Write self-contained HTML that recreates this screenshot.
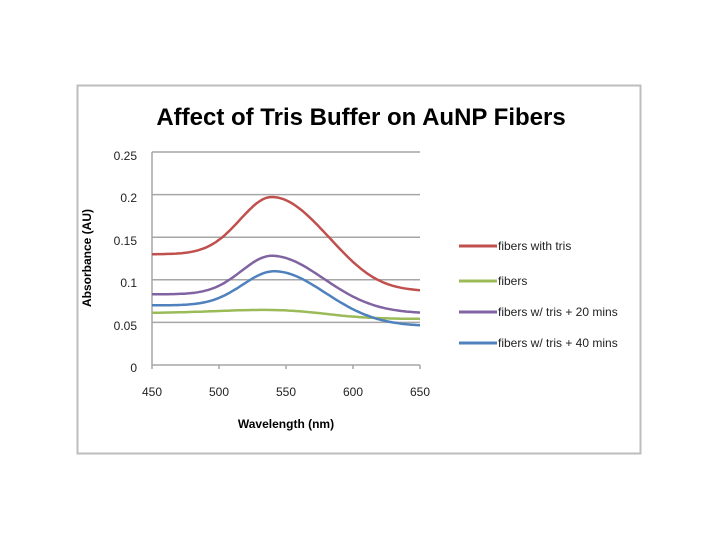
<!DOCTYPE html>
<html><head><meta charset="utf-8"><style>
body{margin:0;background:#fff;width:720px;height:540px;overflow:hidden;font-family:"Liberation Sans",sans-serif;}
</style></head><body>
<svg width="720" height="540" xmlns="http://www.w3.org/2000/svg" font-family="Liberation Sans, sans-serif">
<rect x="77.5" y="85.5" width="563" height="368" fill="#fff" stroke="#bdbdbd" stroke-width="2"/>
<text x="361" y="125" font-size="24" font-weight="bold" text-anchor="middle" fill="#000">Affect of Tris Buffer on AuNP Fibers</text>
<g stroke="#a6a6a6" stroke-width="1.5">
<line x1="152" y1="152" x2="420" y2="152"/>
<line x1="152" y1="194.6" x2="420" y2="194.6"/>
<line x1="152" y1="237.2" x2="420" y2="237.2"/>
<line x1="152" y1="279.8" x2="420" y2="279.8"/>
<line x1="152" y1="322.4" x2="420" y2="322.4"/>
<line x1="152" y1="365" x2="420" y2="365"/>
<line x1="152" y1="152" x2="152" y2="369"/>
<line x1="219" y1="365" x2="219" y2="369"/>
<line x1="286" y1="365" x2="286" y2="369"/>
<line x1="353" y1="365" x2="353" y2="369"/>
<line x1="420" y1="365" x2="420" y2="369"/>
</g>
<g font-size="12" fill="#222" text-anchor="end">
<text x="137" y="160">0.25</text><text x="137" y="202">0.2</text><text x="137" y="245">0.15</text>
<text x="137" y="287">0.1</text><text x="137" y="330">0.05</text><text x="137" y="372">0</text>
</g>
<g font-size="12" fill="#222" text-anchor="middle">
<text x="152" y="396">450</text><text x="219" y="396">500</text><text x="286" y="396">550</text>
<text x="353" y="396">600</text><text x="420" y="396">650</text>
</g>
<text x="286" y="428" font-size="12" font-weight="bold" text-anchor="middle">Wavelength (nm)</text>
<text transform="translate(91,258) rotate(-90)" font-size="12" font-weight="bold" text-anchor="middle">Absorbance (AU)</text>
<g id="series" fill="none" stroke-width="2.5" stroke-linejoin="round"></g>
<g stroke-width="3">
<line x1="459" y1="246" x2="497" y2="246" stroke="#c0504d"/>
<line x1="459" y1="281" x2="497" y2="281" stroke="#9bbb59"/>
<line x1="459" y1="312" x2="497" y2="312" stroke="#8064a2"/>
<line x1="459" y1="343" x2="497" y2="343" stroke="#4f81bd"/>
</g>
<g font-size="12" fill="#222">
<text x="498" y="250">fibers with tris</text>
<text x="498" y="285">fibers</text>
<text x="498" y="316">fibers w/ tris + 20 mins</text>
<text x="498" y="347">fibers w/ tris + 40 mins</text>
</g>
</svg>
<script>
function X(l){return 152+(l-450)*268/200;}
function Y(v){return 365-v*852;}
function sig(z){return 1/(1+Math.exp(-z));}
var S=[
 {c:"#c0504d",f:function(l){var b=0.13-0.044*sig((l-600)/15);return b+0.068*Math.exp(-Math.pow((l-540)/(l<540?24:33),2)/2);}},
 {c:"#9bbb59",f:function(l){return 0.061+0.004*Math.exp(-Math.pow((l-540)/40,2)/2)-0.007*sig((l-580)/15);}},
 {c:"#8064a2",f:function(l){var b=0.083-0.023*sig((l-600)/18);return b+0.046*Math.exp(-Math.pow((l-540)/(l<540?23:33),2)/2);}},
 {c:"#4f81bd",f:function(l){var b=0.07-0.025*sig((l-600)/18);return b+0.041*Math.exp(-Math.pow((l-542)/(l<542?24:32),2)/2);}}
];
var g=document.getElementById("series"),h="";
S.forEach(function(s,i){var d="";for(var l=450;l<=650;l+=2){d+=(l==450?"M":"L")+X(l).toFixed(1)+","+Y(s.f(l)).toFixed(1);}
h+='<path d="'+d+'" stroke="'+s.c+'"/>';});
g.innerHTML=h;
</script>
</body></html>
